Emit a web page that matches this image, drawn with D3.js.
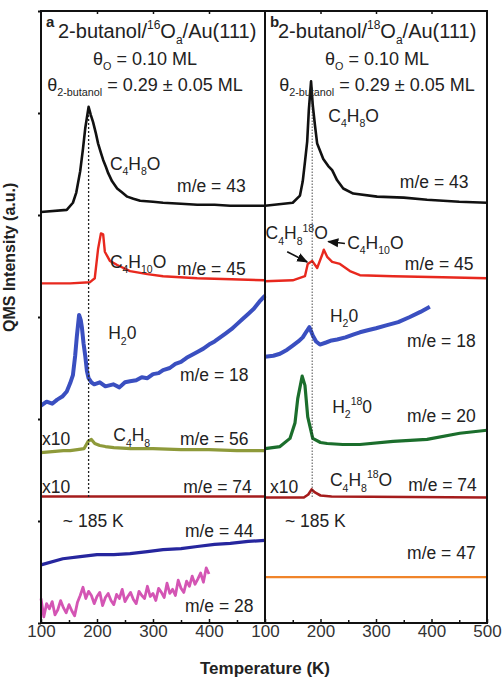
<!DOCTYPE html>
<html>
<head>
<meta charset="utf-8">
<script src="https://cdn.jsdelivr.net/npm/d3@7"></script>
<style>
body { margin: 0; background: #fff; }
text { font-family: "Liberation Sans", Arial, sans-serif; fill: #222; }
</style>
</head>
<body>
<svg id="chart" width="502" height="679"></svg>
<script>
// ---- data: [temperature (K), intensity (a.u., offset as plotted)] ----
// panel a : 2-butanol / 16O / Au(111)
var a43 = [[100,4.03],[146,4.05],[157,4.12],[163,4.22],[170,4.43],[175,4.65],[179,4.85],[185,5.06],[189,4.98],[193,4.91],[198,4.80],[202,4.70],[207,4.61],[211,4.54],[216,4.47],[220,4.41],[227,4.33],[236,4.26],[245,4.22],[254,4.18],[265,4.16],[277,4.14],[300,4.13],[318,4.12],[350,4.11],[379,4.10],[410,4.10],[438,4.09],[470,4.09],[500,4.09]];
var a45 = [[100,3.33],[152,3.33],[187,3.34],[196,3.38],[202,3.67],[207,3.82],[211,3.81],[214,3.64],[223,3.55],[236,3.51],[259,3.45],[290,3.42],[318,3.40],[379,3.38],[440,3.37],[500,3.36]];
var a18 = [[100,2.13],[110,2.17],[120,2.15],[129,2.19],[138,2.22],[146,2.27],[152,2.35],[157,2.43],[161,2.62],[164,2.81],[168,3.02],[171,2.97],[173,2.90],[176,2.74],[179,2.62],[182,2.47],[185,2.40],[190,2.36],[195,2.34],[205,2.36],[215,2.32],[229,2.34],[240,2.31],[250,2.36],[259,2.37],[270,2.38],[280,2.41],[290,2.40],[300,2.44],[310,2.45],[318,2.48],[330,2.50],[340,2.54],[350,2.56],[360,2.60],[370,2.63],[380,2.66],[390,2.69],[400,2.73],[410,2.76],[420,2.80],[430,2.84],[440,2.88],[450,2.93],[460,2.98],[470,3.03],[480,3.08],[490,3.15],[500,3.21]];
var a56 = [[100,1.67],[120,1.68],[140,1.69],[152,1.69],[165,1.70],[177,1.71],[184,1.78],[190,1.80],[196,1.76],[205,1.74],[215,1.73],[230,1.72],[260,1.71],[300,1.71],[350,1.70],[400,1.70],[450,1.69],[500,1.69]];
var a74 = [[100,1.24],[200,1.24],[300,1.24],[400,1.24],[500,1.24]];
var a44 = [[100,0.57],[139,0.63],[170,0.65],[200,0.67],[230,0.67],[259,0.68],[290,0.70],[318,0.72],[350,0.73],[379,0.75],[410,0.77],[438,0.78],[470,0.80],[500,0.81]];
var a28 = [[100,0.24],[105,0.06],[110,0.19],[115,0.14],[120,0.21],[125,0.08],[130,0.13],[135,0.22],[140,0.15],[145,0.10],[150,0.18],[155,0.12],[160,0.07],[165,0.20],[170,0.27],[175,0.35],[180,0.24],[185,0.31],[190,0.27],[195,0.19],[200,0.26],[205,0.30],[210,0.17],[215,0.25],[220,0.29],[225,0.22],[230,0.18],[235,0.28],[240,0.24],[245,0.33],[250,0.21],[255,0.26],[260,0.30],[265,0.23],[270,0.19],[275,0.31],[280,0.27],[285,0.24],[290,0.36],[295,0.26],[300,0.29],[305,0.22],[310,0.34],[315,0.30],[320,0.25],[325,0.39],[330,0.29],[335,0.33],[340,0.27],[345,0.42],[350,0.34],[355,0.30],[360,0.41],[365,0.36],[370,0.46],[375,0.38],[380,0.43],[385,0.49],[390,0.40],[395,0.54],[400,0.48]];

// panel b : 2-butanol / 18O / Au(111)
var b43 = [[100,4.09],[150,4.12],[163,4.19],[168,4.33],[172,4.52],[176,4.72],[179,5.03],[183,5.31],[186,5.08],[190,4.88],[194,4.70],[205,4.55],[214,4.48],[221,4.44],[230,4.34],[241,4.26],[259,4.21],[302,4.18],[350,4.17],[392,4.15],[450,4.13],[500,4.12]];
var b45 = [[100,3.35],[150,3.36],[172,3.40],[177,3.52],[185,3.55],[194,3.48],[203,3.61],[206,3.66],[212,3.59],[221,3.54],[235,3.52],[253,3.45],[271,3.41],[331,3.40],[420,3.39],[500,3.38]];
var b18 = [[100,2.61],[115,2.62],[127,2.64],[140,2.68],[150,2.72],[160,2.76],[168,2.80],[175,2.86],[180,2.90],[186,2.82],[192,2.76],[199,2.73],[210,2.75],[220,2.77],[230,2.78],[245,2.80],[260,2.83],[271,2.85],[285,2.87],[300,2.89],[320,2.92],[340,2.95],[361,3.00],[380,3.05],[397,3.10]];
var b20 = [[100,1.71],[127,1.73],[145,1.81],[154,1.96],[159,2.20],[167,2.42],[172,2.33],[177,2.02],[186,1.81],[200,1.77],[212,1.76],[240,1.75],[271,1.75],[331,1.78],[392,1.80],[451,1.86],[500,1.89]];
var b74 = [[100,1.23],[170,1.23],[178,1.26],[184,1.31],[190,1.28],[200,1.25],[220,1.24],[500,1.23]];
var b47 = [[100,0.45],[500,0.45]];

var seriesColors = {
  m43: "#111111", m45: "#e8281e", m18: "#3a4fc0", m56: "#8e9a3a",
  m74: "#a51c1c", m44: "#26269e", m28: "#d455b4", m20: "#1b6e2c", m47: "#f0842a"
};

var tempDomain = [100, 500];
var intensityDomain = [0, 6];
var ticksA = [100, 200, 300, 400];
var ticksB = [100, 200, 300, 400, 500];
var minorTicks = [150, 250, 350, 450];
var peakT = 185;

(function() {
  // ---- layout ----
  var svg = d3.select("#chart");
  var yTop = 11, yBot = 623;
  var xA = d3.scaleLinear().domain(tempDomain).range([41, 265]);
  var xB = d3.scaleLinear().domain(tempDomain).range([265, 487]);
  var y = d3.scaleLinear().domain(intensityDomain).range([yBot, yTop]);

  function rich(g, x, yy, str, size, anchor) {
    var t = g.append("text").attr("x", x).attr("y", yy)
      .style("font-size", size + "px")
      .attr("text-anchor", anchor || "start");
    var re = /_\{([^}]*)\}|\^\{([^}]*)\}|([^_^]+)/g, m, cur = 0;
    while ((m = re.exec(str)) !== null) {
      var shift = 0, txt, fs = size;
      if (m[1] !== undefined) { txt = m[1]; shift = 0.3 * size; fs = size * 0.6; }
      else if (m[2] !== undefined) { txt = m[2]; shift = -0.45 * size; fs = size * 0.6; }
      else { txt = m[3]; }
      t.append("tspan").attr("dy", shift - cur).style("font-size", fs + "px").text(txt);
      cur = shift;
    }
    return t;
  }

  function drawPanel(x, series, dotted) {
    var g = svg.append("g");
    var line = d3.line().x(function(d) { return x(d[0]); }).y(function(d) { return y(d[1]); });
    series.forEach(function(s) {
      g.append("path").datum(s.data)
        .attr("d", line)
        .attr("fill", "none")
        .attr("stroke", s.color)
        .attr("stroke-width", s.width)
        .attr("stroke-linejoin", "round");
    });
    g.append("line")
      .attr("x1", x(peakT)).attr("x2", x(peakT))
      .attr("y1", y(dotted[0])).attr("y2", y(dotted[1]))
      .attr("stroke", "#222").attr("stroke-width", dotted[2])
      .attr("stroke-dasharray", dotted[3]);
    return g;
  }

  var gA = drawPanel(xA, [
    {data: a43, color: seriesColors.m43, width: 2.6},
    {data: a45, color: seriesColors.m45, width: 2.4},
    {data: a18, color: seriesColors.m18, width: 4},
    {data: a56, color: seriesColors.m56, width: 3.2},
    {data: a74, color: seriesColors.m74, width: 2.6},
    {data: a44, color: seriesColors.m44, width: 3.2},
    {data: a28, color: seriesColors.m28, width: 2.8}
  ], [4.98, 1.22, 1.3, "2,2"]);

  var gB = drawPanel(xB, [
    {data: b43, color: seriesColors.m43, width: 2.6},
    {data: b45, color: seriesColors.m45, width: 2.4},
    {data: b18, color: seriesColors.m18, width: 4},
    {data: b20, color: seriesColors.m20, width: 3.2},
    {data: b74, color: seriesColors.m74, width: 2.6},
    {data: b47, color: seriesColors.m47, width: 2.4}
  ], [5.25, 1.22, 0.8, "1.5,1.5"]);

  // ---- annotations [text, T, intensity] ----
  var notesA = [
    ["C_{4}H_{8}O", 223, 4.44], ["m/e = 43", 343, 4.23],
    ["C_{4}H_{10}O", 223, 3.48], ["m/e = 45", 343, 3.41],
    ["H_{2}0", 220, 2.78], ["m/e = 18", 348, 2.37],
    ["x10", 102, 1.75], ["C_{4}H_{8}", 229, 1.78], ["m/e = 56", 348, 1.75],
    ["x10", 102, 1.27], ["m/e = 74", 354, 1.27],
    ["~ 185 K", 139, 0.94], ["m/e = 44", 357, 0.84], ["m/e = 28", 357, 0.11]
  ];
  var notesB = [
    ["C_{4}H_{8}O", 214, 4.91], ["m/e = 43", 343, 4.26],
    ["C_{4}H_{8}^{18}O", 101, 3.76], ["C_{4}H_{10}O", 248, 3.67], ["m/e = 45", 352, 3.46],
    ["H_{2}0", 217, 2.95], ["m/e = 18", 356, 2.71],
    ["H_{2}^{18}0", 221, 2.06], ["m/e = 20", 356, 1.97],
    ["x10", 109, 1.27], ["C_{4}H_{8}^{18}O", 217, 1.34], ["m/e = 74", 358, 1.29],
    ["~ 185 K", 136, 0.94], ["m/e = 47", 356, 0.63]
  ];
  notesA.forEach(function(n) { rich(gA, xA(n[1]), y(n[2]), n[0], 17.5); });
  notesB.forEach(function(n) { rich(gB, xB(n[1]), y(n[2]), n[0], 17.5); });

  // arrows in panel b  [T1, I1, T2, I2]
  var arrowsB = [[140, 3.64, 176, 3.54], [244, 3.72, 214, 3.74]];
  svg.append("defs").append("marker")
    .attr("id", "head").attr("viewBox", "0 0 10 10").attr("refX", 9).attr("refY", 5)
    .attr("markerWidth", 7).attr("markerHeight", 7).attr("orient", "auto")
    .append("path").attr("d", "M0,1L10,5L0,9Z").attr("fill", "#111");
  arrowsB.forEach(function(a) {
    gB.append("line")
      .attr("x1", xB(a[0])).attr("y1", y(a[1]))
      .attr("x2", xB(a[2])).attr("y2", y(a[3]))
      .attr("stroke", "#111").attr("stroke-width", 1.6)
      .attr("marker-end", "url(#head)");
  });

  // ---- frames and axes ----
  svg.append("rect").attr("x", 41).attr("y", yTop).attr("width", 224).attr("height", yBot - yTop)
    .attr("fill", "none").attr("stroke", "#111").attr("stroke-width", 2);
  svg.append("rect").attr("x", 265).attr("y", yTop).attr("width", 222).attr("height", yBot - yTop)
    .attr("fill", "none").attr("stroke", "#111").attr("stroke-width", 2);

  function xAxis(x, vals) {
    var gx = svg.append("g").attr("transform", "translate(0," + yBot + ")")
      .call(d3.axisBottom(x).tickValues(vals).tickSize(-4).tickPadding(2).tickFormat(d3.format("d")));
    gx.select(".domain").remove();
    gx.selectAll("text").style("font-size", "17px").style("fill", "#333").attr("font-family", null);
    gx.selectAll("line").attr("stroke", "#111").attr("stroke-width", 1.5);
    var gm = svg.append("g").attr("transform", "translate(0," + yBot + ")")
      .call(d3.axisBottom(x).tickValues(minorTicks).tickSize(-3).tickFormat(""));
    gm.select(".domain").remove();
    gm.selectAll("line").attr("stroke", "#111").attr("stroke-width", 1.5);
    var gt = svg.append("g").attr("transform", "translate(0," + yTop + ")")
      .call(d3.axisTop(x).tickValues([200, 300, 400]).tickSize(-3).tickFormat(""));
    gt.select(".domain").remove();
    gt.selectAll("line").attr("stroke", "#111").attr("stroke-width", 1.5);
  }
  xAxis(xA, ticksA);
  xAxis(xB, ticksB);

  var gy = svg.append("g").attr("transform", "translate(41,0)")
    .call(d3.axisLeft(y).ticks(6).tickSize(3).tickFormat(""));
  gy.select(".domain").remove();
  gy.selectAll("line").attr("stroke", "#111").attr("stroke-width", 2);

  svg.append("text").attr("x", 265).attr("y", 674).attr("text-anchor", "middle")
    .style("font-size", "17px").style("font-weight", "bold").text("Temperature (K)");
  svg.append("text").attr("transform", "translate(15,332) rotate(-90)")
    .style("font-size", "16px").style("font-weight", "bold").text("QMS Intensity (a.u.)");

  // ---- panel headers ----
  var headers = [
    {x: 41, letter: "a", title: "2-butanol/^{16}O_{a}/Au(111)", tx: 58, cx: 145},
    {x: 265, letter: "b", title: "2-butanol/^{18}O_{a}/Au(111)", tx: 278, cx: 377}
  ];
  headers.forEach(function(h) {
    svg.append("text").attr("x", h.x + 5).attr("y", 27).style("font-size", "15px").style("font-weight", "bold").text(h.letter);
    rich(svg, h.tx, 38, h.title, 20);
    rich(svg, h.cx, 65, "\u03b8_{O} = 0.10 ML", 18, "middle");
    rich(svg, h.cx, 91, "\u03b8_{2-butanol} = 0.29 \u00b1 0.05 ML", 18, "middle");
  });
})();
</script>
</body>
</html>
